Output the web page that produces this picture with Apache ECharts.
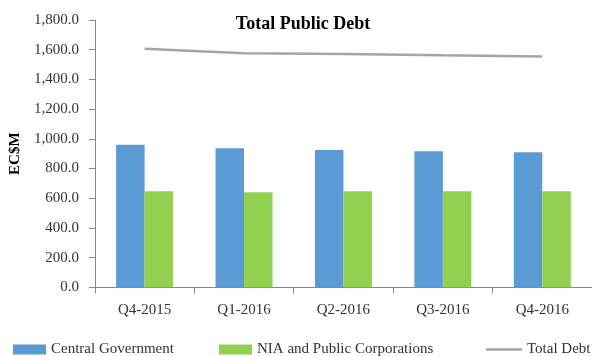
<!DOCTYPE html>
<html><head><meta charset="utf-8">
<script src="https://cdn.jsdelivr.net/npm/echarts@6/dist/echarts.min.js"></script>
<style>html,body{margin:0;padding:0;background:#fff}#c{width:592px;height:356px}</style>
</head><body><div id="c"></div>
<script>
const categories = ['Q4-2015','Q1-2016','Q2-2016','Q3-2016','Q4-2016'];
const centralGov = [960, 936, 925, 916, 909];
const niaPublic = [646, 640, 646, 646, 646];
const totalDebt = [1606, 1576, 1571, 1562, 1555];
const yTicks = {min: 0, max: 1800, interval: 200};

const F = '"Liberation Serif", "DejaVu Serif", serif';
const chart = echarts.init(document.getElementById('c'), null, {renderer: 'canvas'});
const legendText = {fontFamily: F, fontSize: 15, color: '#333'};
chart.setOption({
  animation: false,
  title: {text: 'Total Public Debt', left: 298, textAlign: 'center', top: 10,
    textStyle: {fontFamily: F, fontSize: 18, fontWeight: 'bold', color: '#000'}},
  legend: [
    {data: [{name: 'Central Government', icon: 'rect'}], left: 8, top: 337, itemWidth: 33, itemHeight: 10, itemGap: 4, textStyle: legendText},
    {data: [{name: 'NIA and Public Corporations', icon: 'rect'}], left: 214, top: 337, itemWidth: 33, itemHeight: 10, textStyle: legendText},
    {data: [{name: 'Total Debt', icon: 'rect'}], left: 481, top: 337, itemWidth: 36, itemHeight: 2.5, textStyle: legendText}
  ],
  grid: {left: 93, top: 20, bottom: 68.7, right: -5.5, containLabel: false},
  xAxis: {type: 'category', data: categories,
    axisLine: {lineStyle: {color: '#888', width: 1}},
    axisTick: {show: true, alignWithLabel: false, length: 6, lineStyle: {color: '#888'}},
    axisLabel: {fontFamily: F, fontSize: 15, color: '#333', margin: 15}},
  yAxis: {type: 'value', min: yTicks.min, max: yTicks.max, interval: yTicks.interval,
    name: 'EC$M', nameLocation: 'middle', nameGap: 68, nameRotate: 90,
    nameTextStyle: {fontFamily: F, fontSize: 15, fontWeight: 'bold', color: '#000'},
    axisLine: {show: true, lineStyle: {color: '#888'}},
    axisTick: {show: true, length: 6, lineStyle: {color: '#888'}},
    splitLine: {show: false},
    axisLabel: {fontFamily: F, fontSize: 15, color: '#333', margin: 16,
      formatter: v => v.toLocaleString('en-US', {minimumFractionDigits: 1, maximumFractionDigits: 1})}},
  series: [
    {name: 'Central Government', type: 'bar', data: centralGov, barWidth: 28.5, barGap: '0%',
      itemStyle: {color: '#5B9BD5'}},
    {name: 'NIA and Public Corporations', type: 'bar', data: niaPublic, barWidth: 28.5, barGap: '0%',
      itemStyle: {color: '#92D050'}},
    {name: 'Total Debt', type: 'line', data: totalDebt, symbol: 'none', smooth: false,
      lineStyle: {color: '#A5A5A5', width: 2.5}, itemStyle: {color: '#A5A5A5'}}
  ]
});
</script></body></html>
